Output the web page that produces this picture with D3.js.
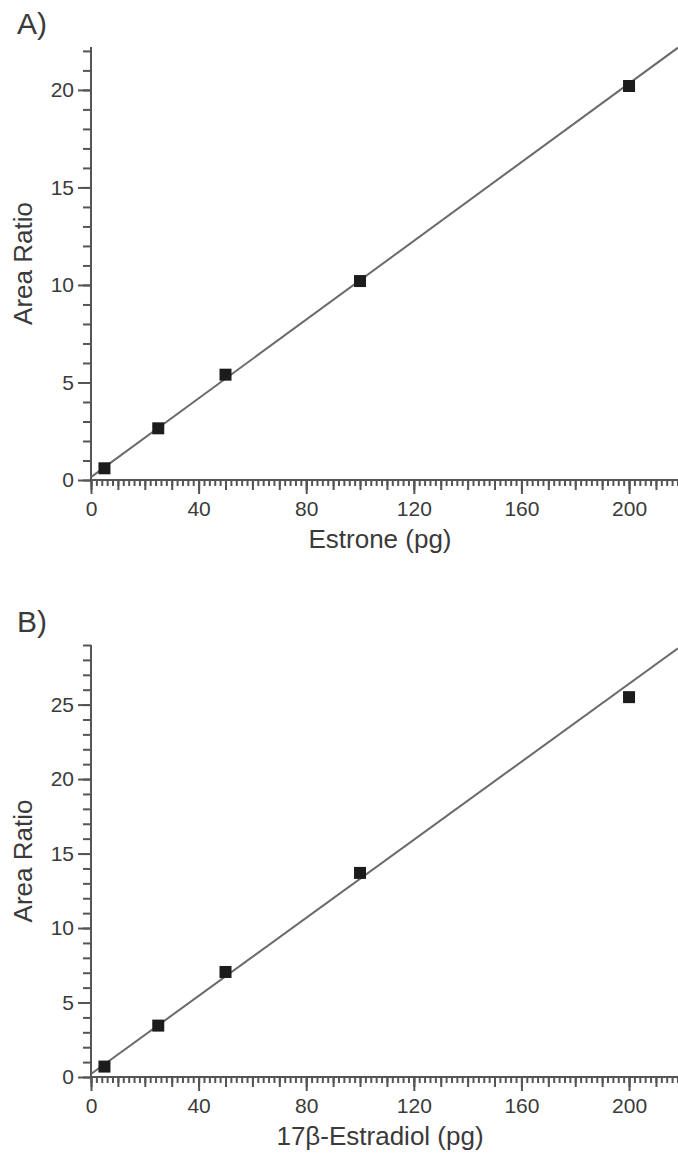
<!DOCTYPE html>
<html>
<head>
<meta charset="utf-8">
<script src="https://cdn.jsdelivr.net/npm/d3@7"></script>
<style>
  body { margin: 0; background: #fff; }
  svg { display: block; }
  .tick text { font-family: "Liberation Sans", Arial, sans-serif; font-size: 21px; fill: #3a3a3a; }
  .lbl { font-family: "Liberation Sans", Arial, sans-serif; fill: #3a3a3a; }
</style>
</head>
<body>
<div id="chart"></div>
<script>
// amounts injected (pg)
var amounts = [5, 25, 50, 100, 200];
// area ratios
var ratiosEstrone = [0.6, 2.65, 5.4, 10.2, 20.2];
var ratiosEstradiol = [0.7, 3.45, 7.05, 13.7, 25.5];
// calibration lines [slope, intercept]
var fitEstrone = [0.1009, 0.15];
var fitEstradiol = [0.131, 0.2];

var xMajor = [0, 40, 80, 120, 160, 200];
var yMajorA = [0, 5, 10, 15, 20];
var yMajorB = [0, 5, 10, 15, 20, 25];

var width = 678, height = 1154;
var axisCol = "#555", lineCol = "#6a6a6a", markCol = "#1c1c1c";

var svg = d3.select("#chart").append("svg")
  .attr("width", width)
  .attr("height", height);

function panel(opts){
  var g = svg.append("g");
  var x = d3.scaleLinear().domain([0, 218.2]).range([91, 678]);
  var y = d3.scaleLinear().domain([0, opts.yMax]).range([opts.bottom, opts.top]);

  // x ticks in three sizes
  var small = d3.range(0, 219, 2), mid = d3.range(0, 219, 10);
  [[small, 6], [mid, 10], [xMajor, 14]].forEach(function(t, i){
    var ax = d3.axisBottom(x).tickValues(t[0]).tickSize(t[1]).tickSizeOuter(0)
      .tickPadding(7).tickFormat(i == 2 ? d3.format("d") : "");
    var a = g.append("g")
      .attr("transform", "translate(0," + opts.bottom + ")")
      .call(ax);
    a.select(".domain").remove();
    a.selectAll("line").attr("stroke", axisCol).attr("stroke-width", 2);
  });

  // y ticks
  var yMinor = d3.range(0, Math.floor(opts.yMax) + 1, 1);
  [[yMinor, 8], [opts.yMajor, 13]].forEach(function(t, i){
    var ax = d3.axisLeft(y).tickValues(t[0]).tickSize(t[1]).tickSizeOuter(0)
      .tickPadding(4).tickFormat(i == 1 ? d3.format("d") : "");
    var a = g.append("g")
      .attr("transform", "translate(91,0)")
      .call(ax);
    a.select(".domain").remove();
    a.selectAll("line").attr("stroke", axisCol).attr("stroke-width", 2);
  });

  // axis lines
  g.append("line")
    .attr("x1", 91).attr("x2", 678)
    .attr("y1", opts.bottom).attr("y2", opts.bottom)
    .attr("stroke", axisCol).attr("stroke-width", 2);
  g.append("line")
    .attr("x1", 91).attr("x2", 91)
    .attr("y1", opts.top).attr("y2", opts.bottom + 1)
    .attr("stroke", axisCol).attr("stroke-width", 2);

  // fit line
  var fx = x.domain();
  g.append("line")
    .attr("x1", x(fx[0])).attr("y1", y(opts.fit[0] * fx[0] + opts.fit[1]))
    .attr("x2", x(fx[1])).attr("y2", y(opts.fit[0] * fx[1] + opts.fit[1]))
    .attr("stroke", lineCol).attr("stroke-width", 2);

  // points
  var pts = amounts.map((a, i) => ({x: a, y: opts.values[i]}));
  g.selectAll("rect.pt")
    .data(pts)
    .enter()
    .append("rect")
    .attr("class", "pt")
    .attr("x", d => x(d.x) - 6)
    .attr("y", d => y(d.y) - 6)
    .attr("width", 12)
    .attr("height", 12)
    .attr("fill", markCol);

  // labels
  g.append("text")
    .attr("class", "lbl")
    .attr("x", 17).attr("y", opts.top - 13)
    .style("font-size", "30px")
    .text(opts.panel);

  g.append("text")
    .attr("class", "lbl")
    .attr("x", 380).attr("y", opts.bottom + 68)
    .attr("text-anchor", "middle")
    .style("font-size", "26px")
    .text(opts.xLabel);

  g.append("text")
    .attr("class", "lbl")
    .attr("transform", "translate(32," + ((opts.top + opts.bottom) / 2) + ") rotate(-90)")
    .attr("text-anchor", "middle")
    .style("font-size", "26px")
    .text("Area Ratio");
}

panel({panel: "A)", top: 47, bottom: 480, yMax: 22.2, yMajor: yMajorA,
  values: ratiosEstrone, fit: fitEstrone, xLabel: "Estrone (pg)"});
panel({panel: "B)", top: 645, bottom: 1077, yMax: 29, yMajor: yMajorB,
  values: ratiosEstradiol, fit: fitEstradiol, xLabel: "17β-Estradiol (pg)"});
</script>
</body>
</html>
